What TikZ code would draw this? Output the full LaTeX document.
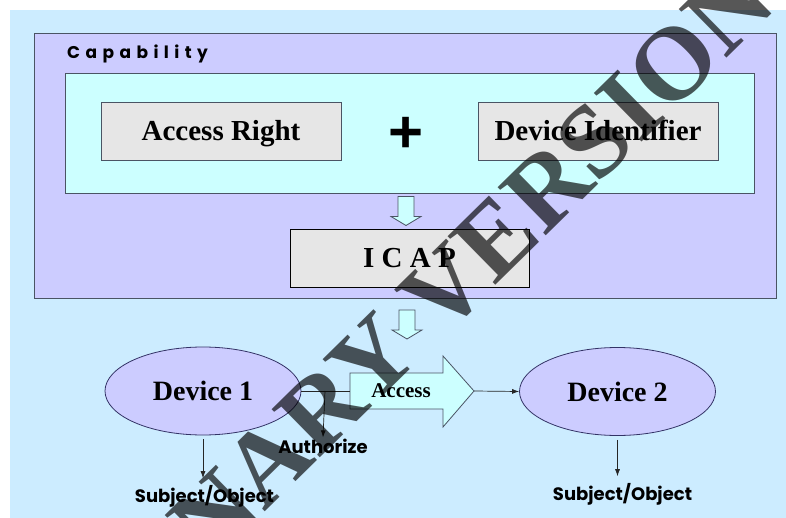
\documentclass[tikz,border=0pt]{standalone}
\usepackage{xcolor}
\usepackage{fontspec}
\usepackage{tikz}
\usetikzlibrary{shapes.geometric, arrows.meta, positioning}

\setmainfont{Liberation Serif}
\newfontfamily\gothicfont{Poppins}
\newfontfamily\gothicwide[LetterSpace=32]{Poppins}
\newfontfamily\plusfont{Liberation Sans}

% hollow block arrow pointing down, centred on a coordinate
\newcommand{\hollowdown}[1]{%
  \draw[hollowarrow, shift={(#1)}] (-8,-14.5) -- (8,-14.5) -- (8,5.5) -- (15,5.5)
    -- (0,14.5) -- (-15,5.5) -- (-8,5.5) -- cycle;}

\tikzset{
  graybox/.style={draw=frameline, fill=boxgray, line width=0.8pt, inner sep=0pt,
    text height=19pt, text depth=0pt,
    minimum width=240pt, minimum height=58pt, font={\fontsize{29}{34}\selectfont\bfseries}},
  device/.style={ellipse, draw=navyline, fill=capviolet, line width=0.8pt, inner sep=0pt,
    minimum width=196pt, minimum height=88pt, font={\fontsize{28}{32}\selectfont\bfseries}},
  sublabel/.style={anchor=base, inner sep=1pt, font={\gothicfont\bfseries\fontsize{18}{20}\selectfont}},
  hollowarrow/.style={draw=frameline, fill=palecyan, line width=0.8pt, line join=miter},
  thinarrow/.style={-{Latex[length=7pt,width=5pt]}, draw=black!85, line width=0.7pt},
  thinline/.style={draw=black!85, line width=0.7pt}
}

\begin{document}
\begin{tikzpicture}[x=1pt, y=-1pt]
  \definecolor{skyback}{HTML}{CCECFF}
  \definecolor{capviolet}{HTML}{CCCCFF}
  \definecolor{palecyan}{HTML}{CCFFFF}
  \definecolor{boxgray}{HTML}{E6E6E6}
  \definecolor{frameline}{HTML}{4A5464}
  \definecolor{navyline}{HTML}{333366}

  \useasboundingbox (0,0) rectangle (786,518);
  \fill[skyback] (10,10) rectangle (786,518);

  % capability container
  \draw[frameline, fill=capviolet, line width=0.8pt] (34,33) rectangle (776,298);
  \node[anchor=base west, inner sep=0pt, font={\gothicwide\bfseries\fontsize{17}{18}\selectfont}] (caption) at (67,59) {Capability};
  \draw[frameline, fill=palecyan, line width=0.8pt] (65,73) rectangle (754,193);

  \node[graybox] (right) at (221,131) {Access Right};
  \node[inner sep=0pt, font={\plusfont\bfseries\fontsize{60}{60}\selectfont}] (plus) at (405.7,134.5) {+};
  \node[graybox] (devid) at (598,131) {Device Identifier};

  \coordinate (capflow) at (406,211);
  \hollowdown{capflow}
  \node[graybox, draw=black, minimum width=239pt] (icap) at (409.5,258) {I C A P};
  \coordinate (icapflow) at (407,324.5);
  \hollowdown{icapflow}

  % devices and the access arrow
  \node[device] (dev1) at (203,391) {Device 1};
  \node[device] (dev2) at (617.5,391.5) {Device 2};

  \draw[hollowarrow] (350,373) -- (443,373) -- (443,356) -- (474,391)
    -- (443,427) -- (443,409) -- (350,409) -- cycle;
  \node[font={\fontsize{21}{24}\selectfont\bfseries}] (acclabel) at (401,391) {Access};
  \coordinate (acctail) at (350,391);
  \coordinate (acctip) at (474,391);
  \coordinate (authfork) at (325,391);

  \node[sublabel] (auth) at (323,453) {Authorize};
  \node[sublabel] (subj1) at (204.5,502.5) {Subject/Object};
  \node[sublabel] (subj2) at (622.5,500.5) {Subject/Object};

  \draw[thinline] (dev1.east) -- (acctail);
  \draw[thinarrow] (acctip) -- (dev2.west);
  \draw[thinarrow] (authfork) -- (auth.north);
  \draw[thinarrow, shorten <=4pt, shorten >=6pt] (dev1.south) -- (dev1.south |- subj1.north);
  \draw[thinarrow, shorten <=4pt, shorten >=6pt] (dev2.south) -- (dev2.south |- subj2.north);

  % stamp across the sheet
  \begin{scope}
    \clip (0,0) rectangle (786,518);
    \node[rotate=44.5, inner sep=0pt, text=black, text opacity=0.66,
      font={\fontsize{104}{104}\selectfont\bfseries}] (stamp) at (309,422) {PRELIMINARY VERSION};
  \end{scope}
\end{tikzpicture}
\end{document}
